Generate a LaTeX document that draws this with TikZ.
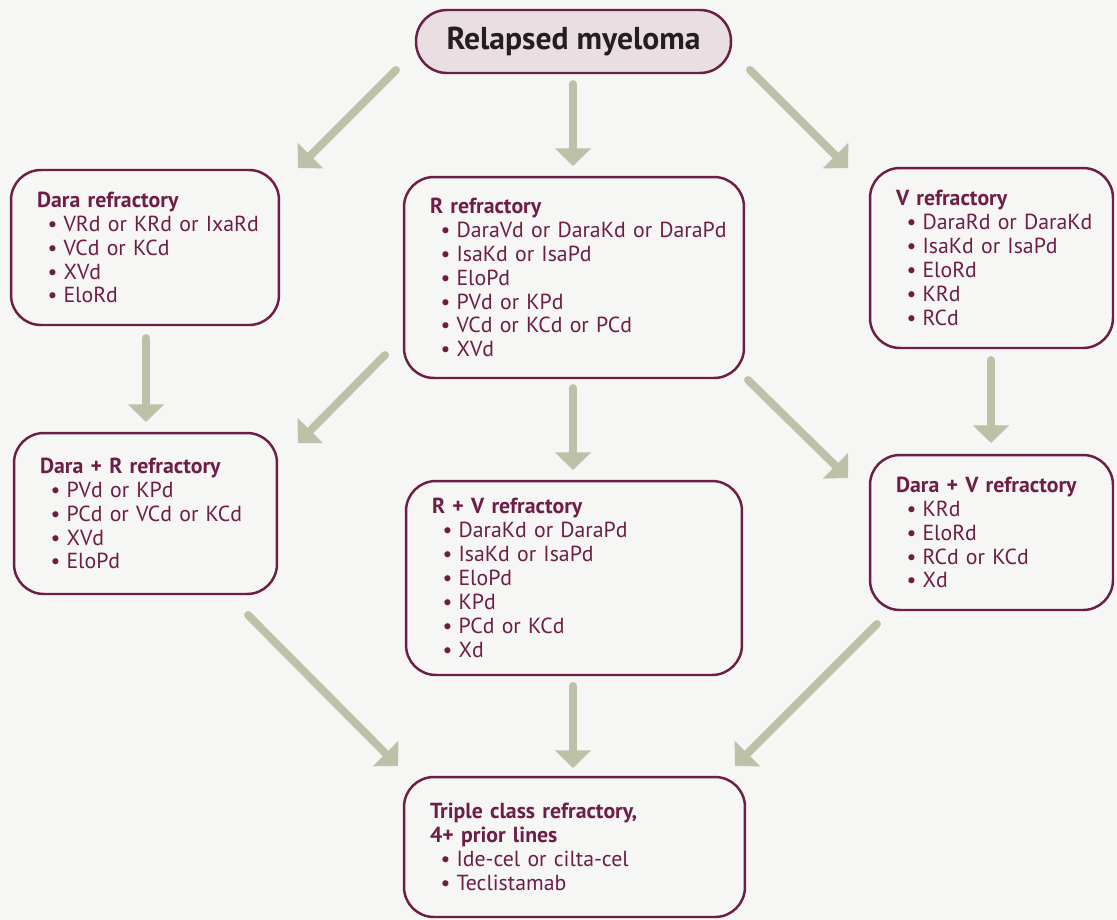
\documentclass[tikz,border=0pt]{standalone}
\usepackage{fontspec}
\setmainfont{PT Sans}
\usetikzlibrary{arrows.meta}
\definecolor{maroon}{HTML}{6D1D46}
\definecolor{sage}{HTML}{BEC0A8}
\definecolor{paper}{HTML}{F6F6F4}
\definecolor{blush}{HTML}{E9DFE2}
\definecolor{ink}{HTML}{231F20}
\newcommand{\itm}[1]{\\\hspace*{6pt}\mbox{\textbullet\hspace{3.5pt}#1}}
\newcommand{\ttl}[1]{\mbox{\textbf{#1}}}
\tikzset{
  box/.style={draw=maroon, line width=1.4pt, rounded corners=17pt, fill=paper,
    align=left, inner xsep=0.52cm, inner ysep=0pt, text=maroon,
    font=\fontsize{12.4}{13.6}\selectfont},
  flow/.style={draw=sage, line width=4.5pt, line cap=round,
    -{Triangle[length=10pt,width=20pt]}},
}

\begin{document}
\begin{tikzpicture}[x=0.02cm, y=-0.02cm]
    \fill[paper] (0,0) rectangle (1117,920);

    % start
    \node[draw=maroon, line width=1.4pt, rounded corners=17.6pt, fill=blush,
      minimum width=6.3cm, minimum height=1.26cm, text=ink,
      font=\fontsize{18}{20}\selectfont\bfseries] (relapse) at (573.5,41.5) {Relapsed myeloma};

    % first line of refractory
    \node[box, text width=4.32cm, minimum height=3.1cm] (dara) at (145,247.5)
      {\ttl{Dara refractory}\itm{VRd or KRd or IxaRd}\itm{VCd or KCd}\itm{XVd}\itm{EloRd}};
    \node[box, text width=5.76cm, minimum height=4.02cm] (rref) at (574,277.5)
      {\ttl{R refractory}\itm{DaraVd or DaraKd or DaraPd}\itm{IsaKd or IsaPd}\itm{EloPd}\itm{PVd or KPd}\itm{VCd or KCd or PCd}\itm{XVd}};
    \node[box, text width=3.82cm, minimum height=3.6cm] (vref) at (991.5,258)
      {\ttl{V refractory}\itm{DaraRd or DaraKd}\itm{IsaKd or IsaPd}\itm{EloRd}\itm{KRd}\itm{RCd}};

    % double refractory
    \node[box, text width=4.22cm, minimum height=3.22cm] (darar) at (145.5,513.5)
      {\ttl{Dara + R refractory}\itm{PVd or KPd}\itm{PCd or VCd or KCd}\itm{XVd}\itm{EloPd}};
    \node[box, text width=5.68cm, minimum height=3.88cm] (rv) at (574,578)
      {\ttl{R + V refractory}\itm{DaraKd or DaraPd}\itm{IsaKd or IsaPd}\itm{EloPd}\itm{KPd}\itm{PCd or KCd}\itm{Xd}};
    \node[box, text width=3.82cm, minimum height=3.1cm] (darav) at (991.5,532.5)
      {\ttl{Dara + V refractory}\itm{KRd}\itm{EloRd}\itm{RCd or KCd}\itm{Xd}};

    % triple
    \node[box, text width=5.78cm, minimum height=2.8cm] (triple) at (574.5,847)
      {\ttl{Triple class refractory,}\\\ttl{4+ prior lines}\itm{Ide-cel or cilta-cel}\itm{Teclistamab}};

    % arrow ends
    \coordinate (a1) at (396,70);  \coordinate (b1) at (298,168);
    \coordinate (a2) at (573,84);  \coordinate (b2) at (573,166);
    \coordinate (a3) at (750,70);  \coordinate (b3) at (848,168);
    \coordinate (a4) at (146,338); \coordinate (b4) at (146,422);
    \coordinate (a5) at (385,355); \coordinate (b5) at (298,443);
    \coordinate (a6) at (573,388); \coordinate (b6) at (573,470);
    \coordinate (a7) at (748,380); \coordinate (b7) at (848,478);
    \coordinate (a8) at (991,360); \coordinate (b8) at (991,443);
    \coordinate (a9) at (248,615); \coordinate (b9) at (398,766);
    \coordinate (a10) at (573,686); \coordinate (b10) at (573,768);
    \coordinate (a11) at (877,624); \coordinate (b11) at (735,766);

    \foreach \i in {1,...,11}
      \draw[flow] (a\i) -- (b\i);
\end{tikzpicture}
\end{document}
